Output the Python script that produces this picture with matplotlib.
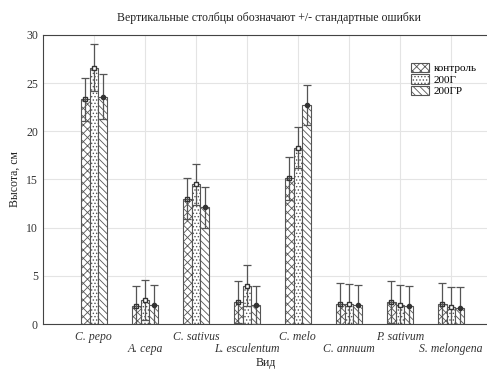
import numpy as np
import matplotlib.pyplot as plt

species = ['C. pepo', 'A. cepa', 'C. sativus', 'L. esculentum',
           'C. melo', 'C. annuum', 'P. sativum', 'S. melongena']
groups = ['контроль', '200Г', '200ГР']

control = [23.3, 1.9, 13.0, 2.3, 15.1, 2.1, 2.3, 2.1]
g200 = [26.6, 2.5, 14.5, 4.0, 18.3, 2.05, 2.0, 1.8]
g200r = [23.6, 2.0, 12.1, 2.0, 22.7, 2.0, 1.9, 1.7]

err_control = [2.2, 2.1, 2.1, 2.2, 2.2, 2.2, 2.2, 2.2]
err_g200 = [2.4, 2.1, 2.1, 2.1, 2.1, 2.1, 2.1, 2.1]
err_g200r = [2.3, 2.1, 2.1, 2.0, 2.1, 2.1, 2.1, 2.1]

plt.rcParams['font.family'] = ['Liberation Serif', 'DejaVu Serif']
plt.rcParams['hatch.linewidth'] = 0.6

fig = plt.figure(figsize=(4.87, 3.70), dpi=100)
ax = fig.add_axes([0.088, 0.124, 0.93, 0.782])

x = np.arange(len(species))
w = 0.17
series = [(control, err_control, 'xxxx', 's', 'none'),
          (g200, err_g200, '.....', 's', 'white'),
          (g200r, err_g200r, '\\\\\\\\\\', 'o', '#333333')]

for k, (vals, errs, hatch, mk, mfc) in enumerate(series):
    pos = x + (k - 1) * w
    ax.bar(pos, vals, width=w, color='white', edgecolor='#555555',
           hatch=hatch, linewidth=0.8, label=groups[k], zorder=2)
    ax.errorbar(pos, vals, yerr=errs, fmt=mk, ms=3, mfc=mfc, mec='#333333',
                ecolor='#555555', elinewidth=0.9, capsize=3, capthick=0.9,
                zorder=3)

ax.set_xlim(-1, 7.88)
ax.set_ylim(0, 30)
ax.set_yticks([0, 5, 10, 15, 20, 25, 30])
ax.set_xticks(x)
ax.set_xticklabels([])
# staggered species labels, two rows
for i, s in enumerate(species):
    ax.text(x[i], -0.045 if i % 2 == 0 else -0.087, s,
            transform=ax.get_xaxis_transform(), ha='center', va='center',
            fontstyle='italic', fontsize=8.5, color='#333333')
ax.tick_params(axis='x', length=0)
ax.tick_params(axis='y', labelsize=8.5, labelcolor='#333333', length=0)
ax.grid(True, color='#e4e4e4', linewidth=0.8, zorder=0)
ax.set_axisbelow(True)
for s in ['left', 'bottom', 'top']:
    ax.spines[s].set_color('#444444')
ax.spines['right'].set_visible(False)

ax.set_title('Вертикальные столбцы обозначают +/- стандартные ошибки',
             fontsize=8.5, pad=10, color='#222222')
fig.text(0.545, 0.003, 'Вид', fontsize=8.5, color='#222222',
         ha='center', va='bottom')
ax.set_ylabel('Высота, см', fontsize=8.5, color='#222222')

leg = ax.legend(loc='upper right', bbox_to_anchor=(0.975, 0.93), frameon=False,
                fontsize=8, handlelength=1.6, handleheight=0.9,
                borderpad=0.2, labelspacing=0.1, handletextpad=0.4)

fig.savefig('out.png', dpi=100)
